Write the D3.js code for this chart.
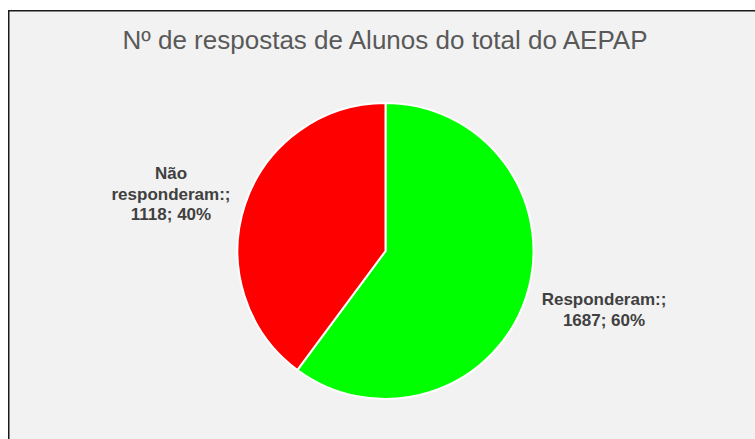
<!DOCTYPE html>
<html>
<head>
<meta charset="utf-8">
<script src="https://cdn.jsdelivr.net/npm/d3@7"></script>
<style>
  body { margin: 0; background: #fff; }
  svg { display: block; }
</style>
</head>
<body>
<div id="chart-area"></div>
<script>
const WIDTH = 755
const HEIGHT = 439

// data
const categories = ["Responderam:;", "Não responderam:;"]
const values = [1687, 1118]
const colors = ["#00ff00", "#ff0000"]
const title = "Nº de respostas de Alunos do total do AEPAP"

const svg = d3.select("#chart-area").append("svg")
	.attr("width", WIDTH)
	.attr("height", HEIGHT)

// chart area panel (extends past the right/bottom edges)
svg.append("rect")
	.attr("x", 8.75)
	.attr("y", 10.75)
	.attr("width", WIDTH + 20)
	.attr("height", HEIGHT + 20)
	.attr("fill", "#f2f2f2")
	.attr("stroke", "#1a1a1a")
	.attr("stroke-width", 1.5)

svg.append("text")
	.attr("x", 385)
	.attr("y", 49)
	.attr("text-anchor", "middle")
	.attr("font-family", "Liberation Sans, Arial, sans-serif")
	.attr("font-size", "26px")
	.attr("fill", "#595959")
	.text(title)

const cx = 385.5, cy = 251, R = 148

const data = categories.map((c, i) => ({ name: c, value: values[i], color: colors[i] }))
const total = d3.sum(values)

const pie = d3.pie().sort(null).value(d => d.value)
const arc = d3.arc().innerRadius(0).outerRadius(R)

const g = svg.append("g")
	.attr("transform", `translate(${cx}, ${cy})`)

const arcs = pie(data)

g.selectAll("path")
	.data(arcs)
	.enter().append("path")
	.attr("d", arc)
	.attr("fill", d => d.data.color)
	.attr("stroke", "#fff")
	.attr("stroke-width", 2)

// labels outside slices
const labelLines = [
	["Responderam:;", ""],
	["Não", "responderam:;", ""]
]
const labelPos = [[604, 305], [171, 179]]

arcs.forEach((d, i) => {
	const pct = Math.round(d.data.value / total * 100)
	const lines = labelLines[i].slice()
	lines[lines.length - 1] = `${d.data.value}; ${pct}%`
	const t = svg.append("text")
		.attr("text-anchor", "middle")
		.attr("font-family", "Liberation Sans, Arial, sans-serif")
		.attr("font-size", "17px")
		.attr("font-weight", "bold")
		.attr("fill", "#404040")
	lines.forEach((l, j) => {
		t.append("tspan")
			.attr("x", labelPos[i][0])
			.attr("y", labelPos[i][1] + j * 20.5)
			.text(l)
	})
})
</script>
</body>
</html>
